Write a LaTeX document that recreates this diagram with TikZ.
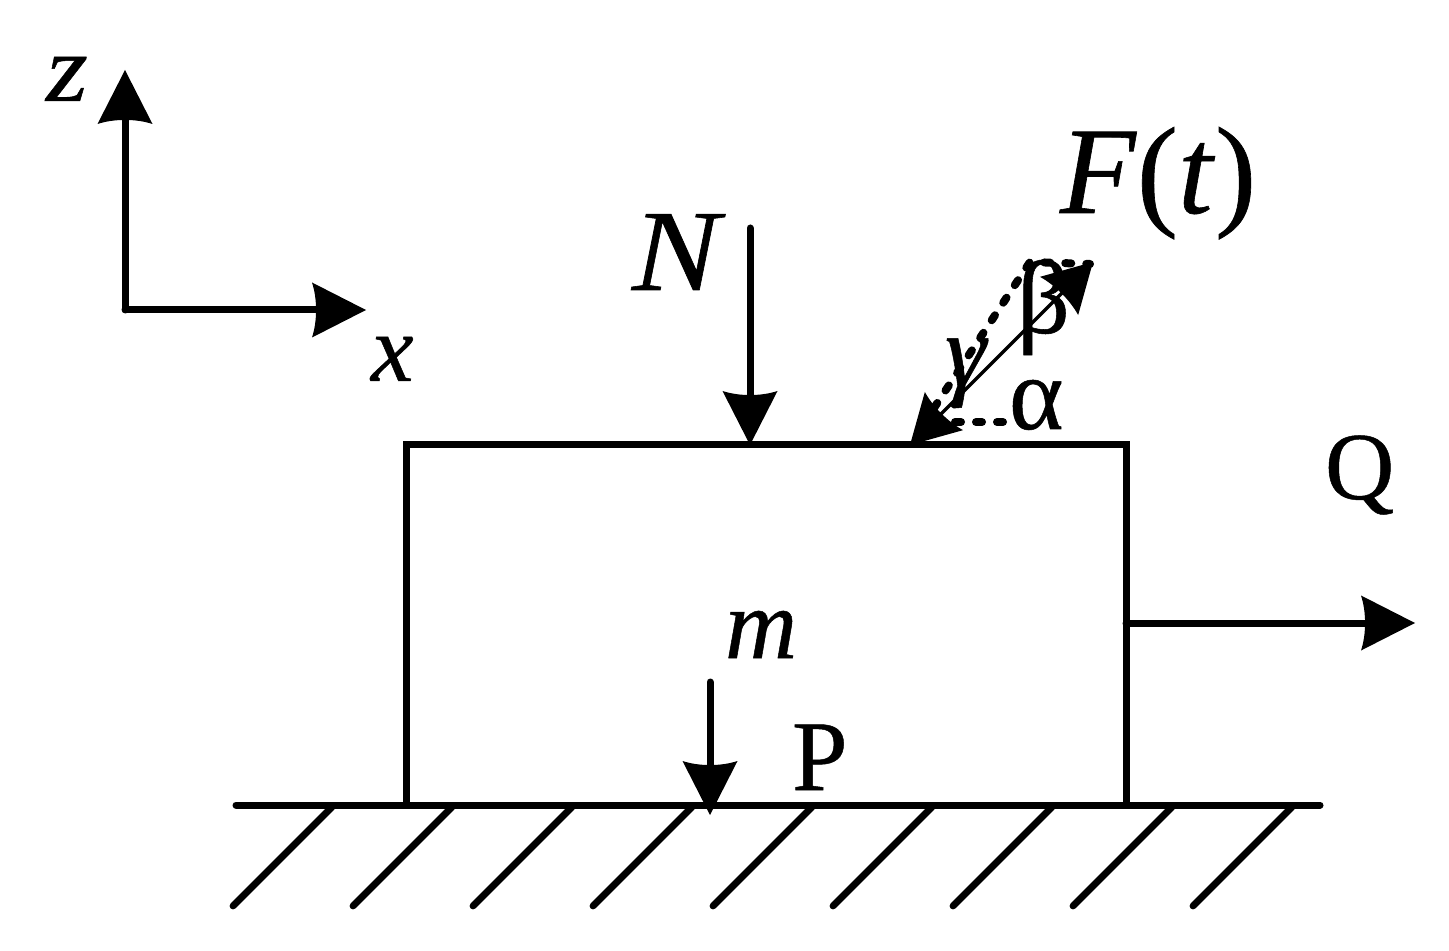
\documentclass[tikz,border=0pt]{standalone}
\usepackage{fontspec}
\setmainfont{Liberation Serif}[FakeBold=0.5]
\usetikzlibrary{arrows.meta}
\pgfdeclarearrow{
  name=Barb,
  defaults={length=27pt,width=27.5pt},
  setup code={
    \pgfarrowssettipend{\pgfarrowlength}
    \pgfarrowssetbackend{0pt}
    \pgfarrowssetlineend{3pt}
    \pgfarrowssetvisualbackend{3pt}
    \pgfarrowshullpoint{\pgfarrowlength}{0pt}
    \pgfarrowsupperhullpoint{0pt}{.5\pgfarrowwidth}
    \pgfarrowssavethe\pgfarrowlength
    \pgfarrowssavethe\pgfarrowwidth
  },
  drawing code={
    \pgfpathmoveto{\pgfpoint{\pgfarrowlength}{0pt}}
    \pgfpathlineto{\pgfpoint{0pt}{.5\pgfarrowwidth}}
    \pgfpathcurveto{\pgfpoint{.1\pgfarrowlength}{.2\pgfarrowwidth}}{\pgfpoint{.1\pgfarrowlength}{-.2\pgfarrowwidth}}{\pgfpoint{0pt}{-.5\pgfarrowwidth}}
    \pgfpathclose
    \pgfusepathqfill
  }
}
\tikzset{
  x=0.5pt,y=-0.5pt,
  line/.style={line width=3.5pt,line cap=round,line join=miter},
  force/.style={line,-{Barb[length=27pt,width=27.5pt]}},
  thinforce/.style={line width=1.7pt,{Barb[length=24pt,width=27pt]}-{Barb[length=24pt,width=27pt]}},
  dots/.style={line width=4pt,line cap=round,dash pattern=on 3pt off 7.5pt},
  lab/.style={inner sep=0pt,outer sep=0pt,anchor=base west},
  hatch/.style={line width=3.4pt,line cap=round}
}
\begin{document}
\begin{tikzpicture}
\useasboundingbox (0,0) rectangle (1449,951);
% axes
\coordinate (O) at (125,310);
\coordinate (Zt) at (125,70);
\coordinate (Xt) at (366,310);
\draw[force] (O) -- (Zt);
\draw[force] (O) -- (Xt);
\node[lab,xscale=1.12,font=\fontsize{48}{48}\selectfont\itshape] (zl) at (46,101) {z};
\node[lab,font=\fontsize{48}{48}\selectfont\itshape] (xl) at (371,381) {x};
% block
\node[draw,line width=3.5pt,minimum width=360pt,minimum height=180pt,inner sep=0pt,outer sep=0pt] (body) at (766,625) {};
% ground
\coordinate (GL) at (236,805);
\coordinate (GR) at (1320,805);
\draw[line] (GL) -- (GR);
\foreach \i/\a in {0/332,1/452,2/572,3/692,4/812,5/932,6/1052,7/1172,8/1292}{
  \coordinate (h\i t) at (\a,807);
  \coordinate (h\i b) at (\a-99,906);
  \draw[hatch] (h\i t) -- (h\i b);
}
% N
\coordinate (Ns) at (750,228);
\coordinate (Nt) at (750,445);
\draw[force] (Ns) -- (Nt);
\node[lab,xscale=1.13,font=\fontsize{58}{58}\selectfont\itshape] (Nl) at (632,290) {N};
% P
\coordinate (Ps) at (710,682);
\coordinate (Pt) at (710,815);
\draw[force] (Ps) -- (Pt);
\node[lab,font=\fontsize{50}{50}\selectfont] (Pl) at (792,790) {P};
\node[lab,font=\fontsize{50}{50}\selectfont\itshape] (ml) at (725,658) {m};
% Q
\coordinate (Qs) at (1126,623);
\coordinate (Qt) at (1415,623);
\draw[force] (Qs) -- (Qt);
\node[lab,font=\fontsize{48}{48}\selectfont] (Ql) at (1325,499) {Q};
% F
\coordinate (Fa) at (1093,262);
\coordinate (Fb) at (910,445);
\draw[thinforce] (Fb) -- (Fa);
\coordinate (D1) at (934,408);
\coordinate (D2) at (1030,262);
\coordinate (D3) at (1090,264);
\coordinate (D4) at (955,422);
\coordinate (D5) at (1012,422);
\draw[dots] (D1) -- (D2) -- (D3);
\draw[dots] (D4) -- (D5);
\node[lab,font=\fontsize{62}{62}\selectfont] (Fl) at (1060,213) {\textit{F}(\textit{t})};
\node[lab,font=\fontsize{52}{52}\selectfont] (al) at (1009,429) {α};
\node[lab,font=\fontsize{52}{52}\selectfont] (bl) at (1017,333) {β};
\node[lab,font=\fontsize{52}{52}\selectfont\itshape] (gl) at (945,386) {γ};
\end{tikzpicture}
\end{document}
